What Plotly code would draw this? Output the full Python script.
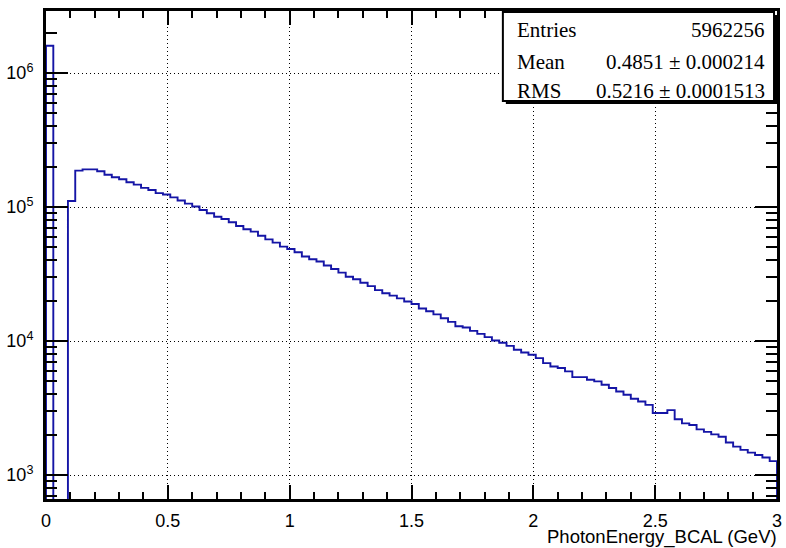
import plotly.graph_objects as go

# ---------------- data ----------------
n_bins = 100
x_min, x_max = 0.0, 3.0
counts = [
    1.6e6, 0, 0, 1.11e5, 1.87e5, 1.91e5, 1.91e5, 1.85e5, 1.74e5, 1.67e5,
    1.61e5, 1.53e5, 1.47e5, 1.39e5, 1.34e5, 1.27e5, 1.24e5, 1.18e5, 1.12e5, 1.06e5,
    1.01e5, 9.5e4, 8.98e4, 8.47e4, 8.15e4, 7.69e4, 7.22e4, 6.83e4, 6.55e4, 6.11e4,
    5.74e4, 5.42e4, 5.06e4, 4.86e4, 4.60e4, 4.27e4, 4.08e4, 3.92e4, 3.66e4, 3.45e4,
    3.24e4, 3.02e4, 2.89e4, 2.72e4, 2.57e4, 2.40e4, 2.27e4, 2.18e4, 2.08e4, 1.97e4,
    1.89e4, 1.75e4, 1.67e4, 1.58e4, 1.48e4, 1.39e4, 1.29e4, 1.26e4, 1.19e4, 1.13e4,
    1.07e4, 1.01e4, 9.7e3, 9.2e3, 8.6e3, 8.2e3, 7.9e3, 7.46e3, 6.84e3, 6.46e3,
    6.29e3, 5.94e3, 5.38e3, 5.38e3, 5.14e3, 5.0e3, 4.72e3, 4.46e3, 4.2e3, 3.97e3,
    3.71e3, 3.54e3, 3.34e3, 2.9e3, 2.9e3, 3.05e3, 2.61e3, 2.43e3, 2.36e3, 2.19e3,
    2.10e3, 2.01e3, 1.93e3, 1.75e3, 1.63e3, 1.54e3, 1.47e3, 1.41e3, 1.35e3, 1.27e3,
]
stat_names = ["Entries", "Mean", "RMS"]
stat_values = ["5962256", "0.4851 ± 0.000214", "0.5216 ± 0.0001513"]

x_tick_vals = [0, 0.5, 1, 1.5, 2, 2.5, 3]
x_tick_text = ["0", "0.5", "1", "1.5", "2", "2.5", "3"]
y_tick_vals = [1e3, 1e4, 1e5, 1e6]
y_tick_text = ["10<sup>3</sup>", "10<sup>4</sup>", "10<sup>5</sup>", "10<sup>6</sup>"]
y_minor_vals = [m * 10 ** e for e in (2, 3, 4, 5, 6) for m in range(2, 10)]
x_title = "PhotonEnergy_BCAL (GeV)"
y_log_range = [2.821, 6.463]

# ---------------- build ----------------
bw = (x_max - x_min) / n_bins
edges = [x_min + i * bw for i in range(n_bins + 1)]
floor = 1.0
ys = [c if c > 0 else floor for c in counts]
x_line = [edges[0]] + edges + [edges[-1]]
y_line = [floor] + ys + [ys[-1], floor]

W, H = 786, 548
ml, mr, mt, mb = 46, 4, 11, 49
pw, ph = W - ml - mr, H - mt - mb

def px(xp):
    return (xp - ml) / pw

def py(yp):
    return (H - mb - yp) / ph

fig = go.Figure()
fig.add_trace(go.Scatter(
    x=x_line, y=y_line, mode="lines", line_shape="hv",
    line=dict(color="#1515a6", width=1.9), hoverinfo="skip", showlegend=False,
))

axis_font = dict(family="Liberation Sans, Arial, sans-serif", size=18, color="black")
fig.update_xaxes(
    range=[x_min, x_max], tickmode="array", tickvals=x_tick_vals, ticktext=x_tick_text,
    ticks="inside", ticklen=14, tickwidth=2, tickcolor="black",
    showline=True, linecolor="black", linewidth=3, mirror="allticks",
    showgrid=True, gridcolor="black", gridwidth=1.2, griddash="1px,3px",
    zeroline=False, tickfont=axis_font, ticklabelstandoff=3,
    minor=dict(tickmode="linear", tick0=0, dtick=0.1, ticks="inside", ticklen=7,
               tickwidth=2, tickcolor="black", showgrid=False),
)
fig.update_yaxes(
    type="log", range=y_log_range, tickmode="array", tickvals=y_tick_vals, ticktext=y_tick_text,
    ticks="inside", ticklen=22, tickwidth=2, tickcolor="black",
    showline=True, linecolor="black", linewidth=3, mirror="allticks",
    showgrid=True, gridcolor="black", gridwidth=1.2, griddash="1px,3px",
    zeroline=False, tickfont=axis_font, ticklabelstandoff=6,
    minor=dict(tickmode="array", tickvals=y_minor_vals, ticks="inside", ticklen=11,
               tickwidth=2, tickcolor="black", showgrid=False),
)

# stats box (shadow + box)
bx0, bx1, by0, by1 = 506, 779, 12, 101
fig.add_shape(type="rect", xref="paper", yref="paper",
              x0=px(bx0 + 3), x1=px(bx1 + 3), y0=py(by1 + 3), y1=py(by0 + 3),
              fillcolor="black", line=dict(width=0), layer="above")
fig.add_shape(type="rect", xref="paper", yref="paper",
              x0=px(bx0), x1=px(bx1), y0=py(by1), y1=py(by0),
              fillcolor="white", line=dict(color="black", width=2), layer="above")

serif = dict(family="Liberation Serif, Times New Roman, serif", size=21, color="black")
row_y = [30, 61.5, 91]
for name, val, yy in zip(stat_names, stat_values, row_y):
    fig.add_annotation(xref="paper", yref="paper", x=px(518), y=py(yy), text=name,
                       showarrow=False, xanchor="left", yanchor="middle", font=serif)
    fig.add_annotation(xref="paper", yref="paper", x=px(772), y=py(yy), text=val,
                       showarrow=False, xanchor="right", yanchor="middle", font=serif)

fig.add_annotation(xref="paper", yref="paper", x=px(784), y=py(537), text=x_title,
                   showarrow=False, xanchor="right", yanchor="middle",
                   font=dict(family="Liberation Sans, Arial, sans-serif", size=18.5, color="black"))

fig.update_layout(
    width=W, height=H, margin=dict(l=ml, r=mr, t=mt, b=mb),
    plot_bgcolor="white", paper_bgcolor="white", showlegend=False,
)

fig.write_html("out.html")
